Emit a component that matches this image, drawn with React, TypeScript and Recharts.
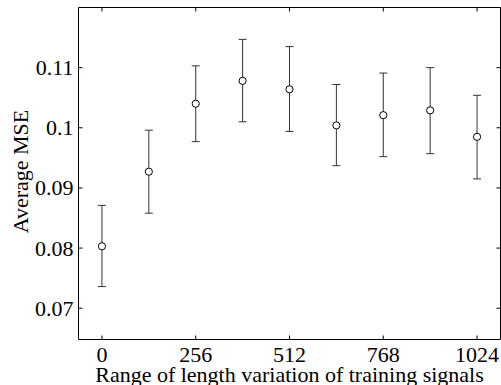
import React from 'react';
import { ScatterChart, Scatter, XAxis, YAxis, ErrorBar } from 'recharts';

const xValues = [0, 128, 256, 384, 512, 640, 768, 896, 1024];
const meanMSE = [0.0803, 0.0927, 0.104, 0.1078, 0.1064, 0.1004, 0.1021, 0.1029, 0.0985];
const lowerMSE = [0.0736, 0.0858, 0.0977, 0.101, 0.0994, 0.0937, 0.0952, 0.0957, 0.0915];
const upperMSE = [0.0871, 0.0996, 0.1103, 0.1147, 0.1135, 0.1072, 0.1091, 0.11, 0.1054];
const xTicks = [0, 256, 512, 768, 1024];
const yTicks = [0.07, 0.08, 0.09, 0.1, 0.11];
const xLabel = 'Range of length variation of training signals';
const yLabel = 'Average MSE';

const data = xValues.map((x, i) => ({
  x,
  y: meanMSE[i],
  err: [meanMSE[i] - lowerMSE[i], upperMSE[i] - meanMSE[i]],
}));

const FONT = '"Liberation Serif", "Times New Roman", serif';
const FS = 22;
const TL = 4;

const BottomTick = (p: any) => (
  <g>
    <line x1={p.x} y1={p.y} x2={p.x} y2={p.y - TL} stroke="#000" strokeWidth={1} />
    <text x={p.x} y={p.y + 22} textAnchor="middle" fontFamily={FONT} fontSize={FS} fill="#000">
      {p.payload.value}
    </text>
  </g>
);
const TopTick = (p: any) => (
  <line x1={p.x} y1={p.y} x2={p.x} y2={p.y + TL} stroke="#000" strokeWidth={1} />
);
const LeftTick = (p: any) => (
  <g>
    <line x1={p.x} y1={p.y} x2={p.x + TL} y2={p.y} stroke="#000" strokeWidth={1} />
    <text x={p.x - 5} y={p.y + 7.5} textAnchor="end" fontFamily={FONT} fontSize={FS} fill="#000">
      {String(p.payload.value)}
    </text>
  </g>
);
const RightTick = (p: any) => (
  <line x1={p.x} y1={p.y} x2={p.x - TL} y2={p.y} stroke="#000" strokeWidth={1} />
);

const XLabel = (p: any) => {
  const vb = p.viewBox;
  return (
    <text x={vb.x + vb.width / 2} y={vb.y + 42.5} textAnchor="middle" fontFamily={FONT} fontSize={FS} fill="#000">
      {xLabel}
    </text>
  );
};
const YLabel = (p: any) => {
  const vb = p.viewBox;
  const cx = vb.x + 28;
  const cy = vb.y + vb.height / 2 - 2;
  return (
    <text x={cx} y={cy} transform={`rotate(-90 ${cx} ${cy})`} textAnchor="middle" fontFamily={FONT} fontSize={FS} fill="#000">
      {yLabel}
    </text>
  );
};

const Marker = (p: any) => (
  <circle cx={p.cx} cy={p.cy} r={3.6} fill="#fff" stroke="#000" strokeWidth={1} />
);

export default function App() {
  return (
    <div style={{ position: 'absolute', left: 0, top: 0, background: '#fff' }}>
      <ScatterChart width={501} height={385} margin={{ top: 0, right: 0, bottom: 0, left: 0 }}>
        <XAxis
          type="number"
          dataKey="x"
          xAxisId="b"
          orientation="bottom"
          domain={[-64, 1088]}
          ticks={xTicks}
          allowDataOverflow
          height={45.5}
          tickSize={0}
          tickMargin={0}
          tickLine={false}
          axisLine={{ stroke: '#000', strokeWidth: 1 }}
          tick={<BottomTick />}
          label={<XLabel />}
        />
        <XAxis
          type="number"
          dataKey="x"
          xAxisId="t"
          orientation="top"
          domain={[-64, 1088]}
          ticks={xTicks}
          allowDataOverflow
          height={7.5}
          tickSize={0}
          tickMargin={0}
          tickLine={false}
          axisLine={{ stroke: '#000', strokeWidth: 1 }}
          tick={<TopTick />}
        />
        <YAxis
          type="number"
          dataKey="y"
          yAxisId="l"
          orientation="left"
          domain={[0.0648, 0.12]}
          ticks={yTicks}
          allowDataOverflow
          width={78.5}
          tickSize={0}
          tickMargin={0}
          tickLine={false}
          axisLine={{ stroke: '#000', strokeWidth: 1 }}
          tick={<LeftTick />}
          label={<YLabel />}
        />
        <YAxis
          type="number"
          dataKey="y"
          yAxisId="r"
          orientation="right"
          domain={[0.0648, 0.12]}
          ticks={yTicks}
          allowDataOverflow
          width={0.5}
          tickSize={0}
          tickMargin={0}
          tickLine={false}
          axisLine={{ stroke: '#000', strokeWidth: 1 }}
          tick={<RightTick />}
        />
        <Scatter data={data} xAxisId="b" yAxisId="l" shape={<Marker />} isAnimationActive={false}>
          <ErrorBar dataKey="err" direction="y" width={4} stroke="#333" strokeWidth={1} isAnimationActive={false} />
        </Scatter>
      </ScatterChart>
    </div>
  );
}
